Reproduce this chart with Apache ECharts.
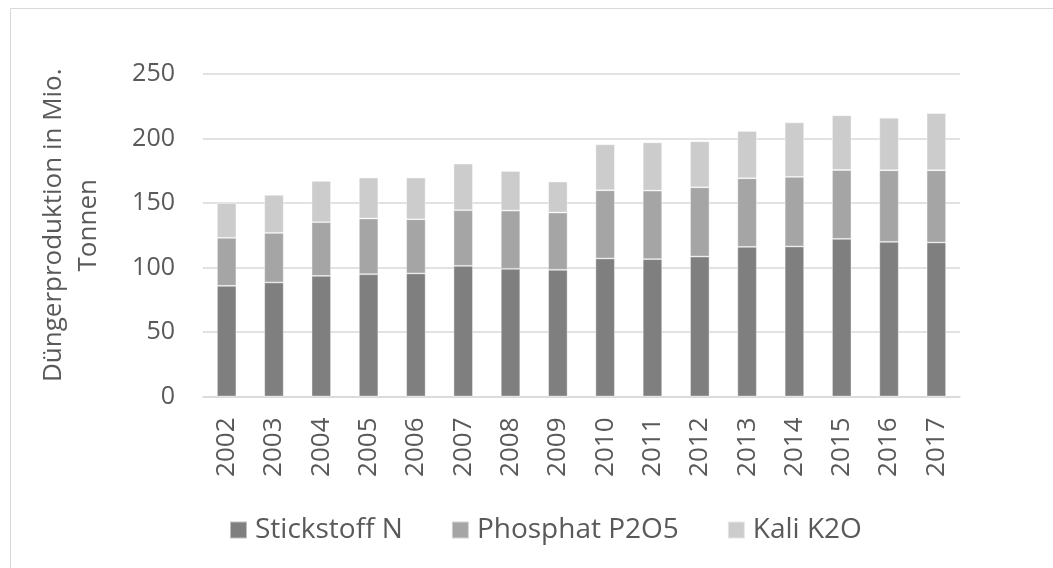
<!DOCTYPE html>
<html>
<head>
<meta charset="utf-8">
<script src="https://cdn.jsdelivr.net/npm/echarts@6/dist/echarts.min.js"></script>
<style>
html,body{margin:0;padding:0;background:#fff;}
#chart{width:1053px;height:568px;}
</style>
</head>
<body>
<div id="chart"></div>
<script>
const years = ['2002','2003','2004','2005','2006','2007','2008','2009','2010','2011','2012','2013','2014','2015','2016','2017'];
const stickstoff = [85.8, 88.4, 93.5, 94.8, 95.4, 101.3, 99.0, 98.2, 107.0, 106.5, 108.5, 116.0, 116.3, 122.2, 119.9, 119.4];
const phosphat = [37.2, 38.4, 41.6, 43.2, 42.0, 43.1, 45.1, 44.4, 52.9, 53.1, 53.7, 53.2, 53.9, 53.4, 55.5, 56.0];
const kali = [27.0, 29.5, 32.0, 31.7, 32.3, 36.1, 30.7, 24.0, 35.6, 37.4, 35.6, 36.6, 42.3, 42.4, 40.7, 44.3];
const seriesNames = ['Stickstoff N', 'Phosphat P2O5', 'Kali K2O'];
const yTitle = 'Düngerproduktion in Mio.\nTonnen';

const FONT = 'Open Sans';
const TXT = '#595959';
const chart = echarts.init(document.getElementById('chart'), null, {renderer: 'canvas'});
const mk = (name, data, color) => ({
  name: name, type: 'bar', stack: 'total', data: data, barWidth: '41%',
  itemStyle: {color: color, borderColor: 'rgba(255,255,255,0.5)', borderWidth: 0.8},
  emphasis: {disabled: true}
});
chart.setOption({
  animation: false,
  backgroundColor: '#ffffff',
  textStyle: {fontFamily: FONT},
  graphic: [{
    type: 'rect', shape: {x: 10.5, y: 8.5, width: 1100, height: 600},
    style: {fill: 'none', stroke: '#d9d9d9', lineWidth: 1}, silent: true
  }],
  grid: {left: 203, right: 93, top: 74, bottom: 171.5},
  legend: {
    data: seriesNames, left: 229, top: 516, padding: 0, icon: 'rect',
    itemWidth: 17, itemHeight: 17, itemGap: 48,
    textStyle: {fontFamily: FONT, fontSize: 28, color: TXT, padding: [0, 0, 0, 3]}
  },
  xAxis: {
    type: 'category', data: years,
    axisLine: {lineStyle: {color: '#d9d9d9', width: 1.5}},
    axisTick: {show: false},
    axisLabel: {rotate: 90, margin: 21, fontFamily: FONT, fontSize: 26, color: TXT}
  },
  yAxis: {
    type: 'value', min: 0, max: 250, interval: 50,
    name: yTitle, nameLocation: 'middle', nameGap: 97,
    nameTextStyle: {fontFamily: FONT, fontSize: 26, color: TXT, lineHeight: 35, align: 'center', padding: [0, 0, 0, 20]},
    axisLine: {show: false}, axisTick: {show: false},
    splitLine: {lineStyle: {color: '#d9d9d9', width: 1.5}},
    axisLabel: {margin: 28, fontFamily: FONT, fontSize: 25, color: TXT}
  },
  series: [
    mk(seriesNames[0], stickstoff, '#7f7f7f'),
    mk(seriesNames[1], phosphat, '#a5a5a5'),
    mk(seriesNames[2], kali, '#cccccc')
  ]
});
</script>
</body>
</html>
